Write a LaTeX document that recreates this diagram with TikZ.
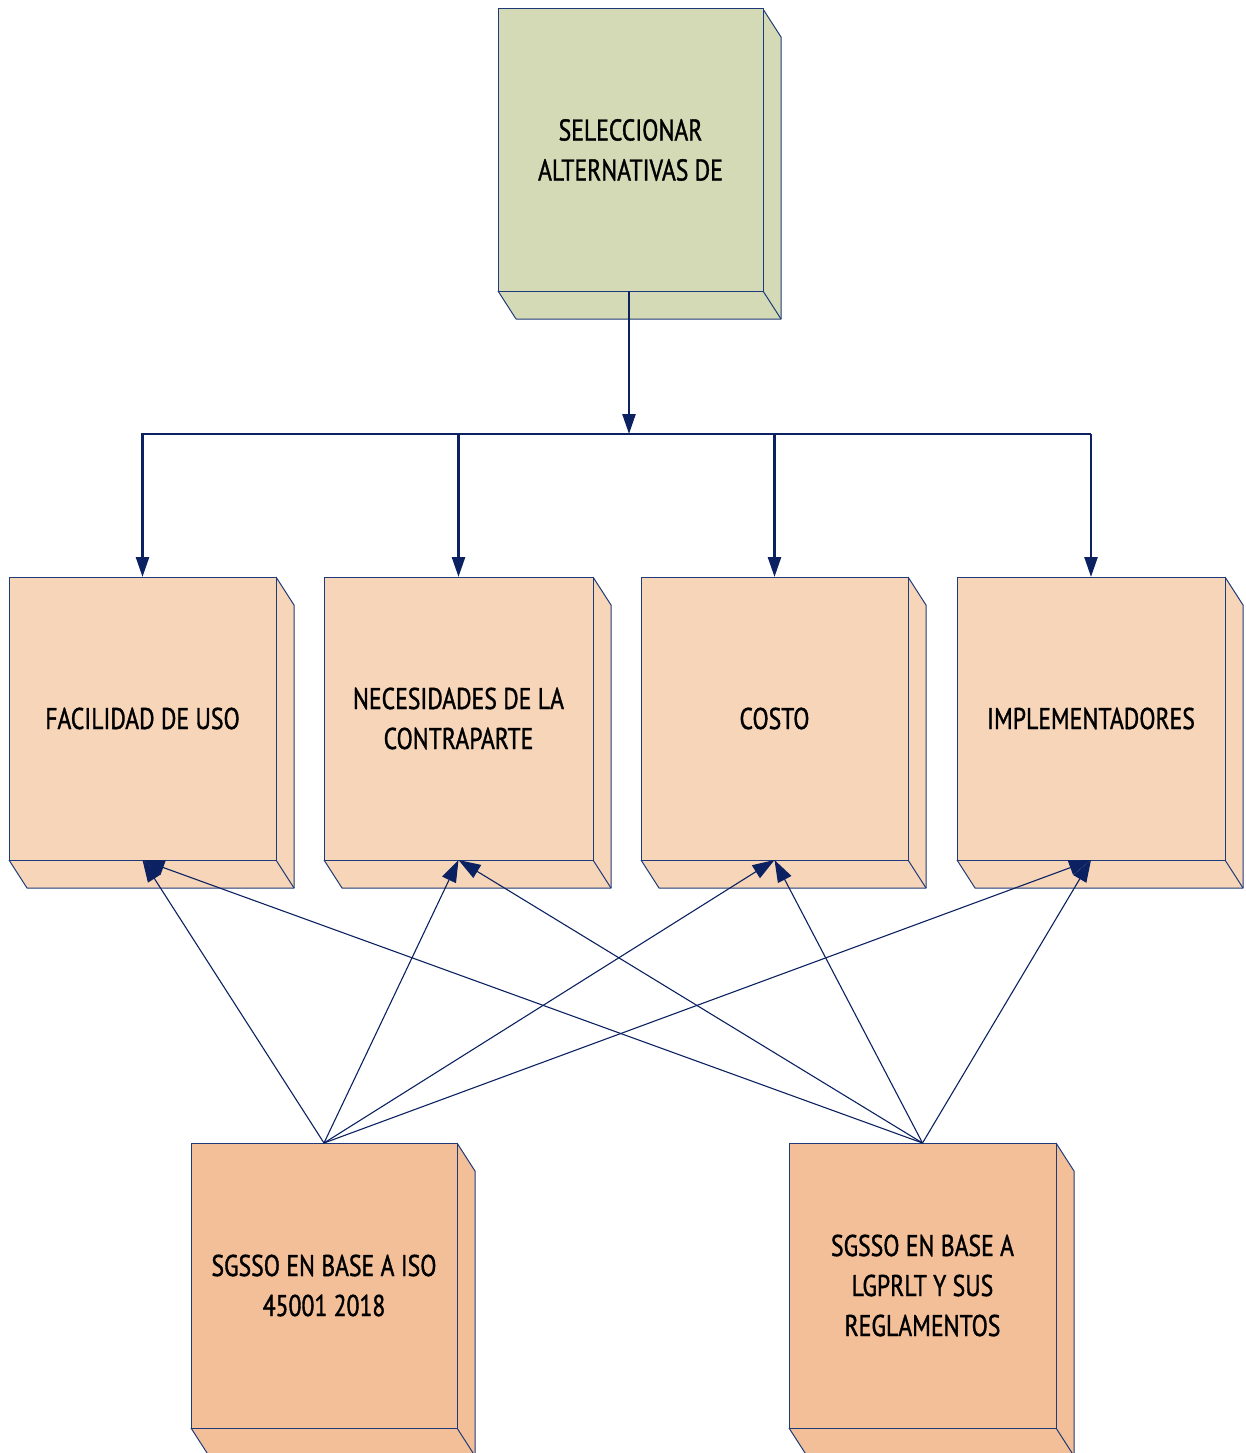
\documentclass[tikz,border=0pt]{standalone}
\usepackage{fontspec}
\setmainfont{PT Sans}[FakeStretch=0.79, FakeBold=1.2]
\usetikzlibrary{arrows.meta}

\definecolor{sage}{HTML}{D3DAB5}
\definecolor{peach}{HTML}{F6D5B9}
\definecolor{apricot}{HTML}{F2BF99}
\definecolor{edgeblue}{HTML}{1F3A78}
\definecolor{navy}{HTML}{0B2161}

\tikzset{
  face/.style={draw=edgeblue, line width=1pt, line join=round},
  front/.style={face, inner sep=0pt, outer sep=0pt, align=center,
    font=\fontsize{30}{40}\selectfont, text=black},
  trunk/.style={draw=navy, line width=2.6pt, -{Triangle[length=20pt,width=13pt]}},
  busline/.style={draw=navy, line width=2.6pt},
  link/.style={draw=navy, line width=1.1pt, -{Triangle[length=22pt,width=15pt]}},
}

% 3-D box: front face node plus a right side and a bottom face
% #1 name, #2 x1, #3 y1, #4 x2, #5 y2, #6 fill, #7 text
\newcommand{\solidbox}[7]{%
  \fill[#6] (#4,#3) -- ++(18,28) -- (#4+18,#5+28) -- (#2+18,#5+28) -- (#2,#5) -- cycle;
  \draw[face] (#4,#3) -- ++(18,28) -- (#4+18,#5+28) -- (#2+18,#5+28) -- (#2,#5);
  \draw[face] (#4,#5) -- ++(18,28);
  \node[front, fill=#6, minimum width={(#4-#2)*1pt}, minimum height={(#5-#3)*1pt}]
    (#1) at ({(#2+#4)/2},{(#3+#5)/2}) {#7};
}

\begin{document}
\begin{tikzpicture}[x=1pt,y=-1pt]
\useasboundingbox (0,0) rectangle (1245,1453);

\solidbox{sel}{498}{9}{763}{291}{sage}{SELECCIONAR\\ALTERNATIVAS DE}

\solidbox{fac}{9}{577}{276}{860}{peach}{FACILIDAD DE USO}
\solidbox{nec}{324}{577}{593}{860}{peach}{NECESIDADES DE LA\\CONTRAPARTE}
\solidbox{cos}{641}{577}{908}{860}{peach}{COSTO}
\solidbox{imp}{957}{577}{1225}{860}{peach}{IMPLEMENTADORES}

\solidbox{iso}{191}{1143}{457}{1428}{apricot}{SGSSO EN BASE A ISO\\45001 2018}
\solidbox{lgp}{789}{1143}{1056}{1428}{apricot}{SGSSO EN BASE A\\LGPRLT Y SUS\\REGLAMENTOS}

% distribution bus
\coordinate (busL) at (141,434);
\coordinate (busR) at (1091,434);
\coordinate (busM) at (629,434);
\draw[trunk] (busM |- sel.south) -- (busM);
\draw[busline] (busL) -- (busR);
\foreach \t in {fac,nec,cos,imp}
  \draw[trunk] (busL -| \t.north) -- (\t.north);

% criteria links from both alternatives
\foreach \s in {iso,lgp}
  \foreach \t in {fac,nec,cos,imp}
    \draw[link] (\s.north) -- (\t.south);
\end{tikzpicture}
\end{document}
